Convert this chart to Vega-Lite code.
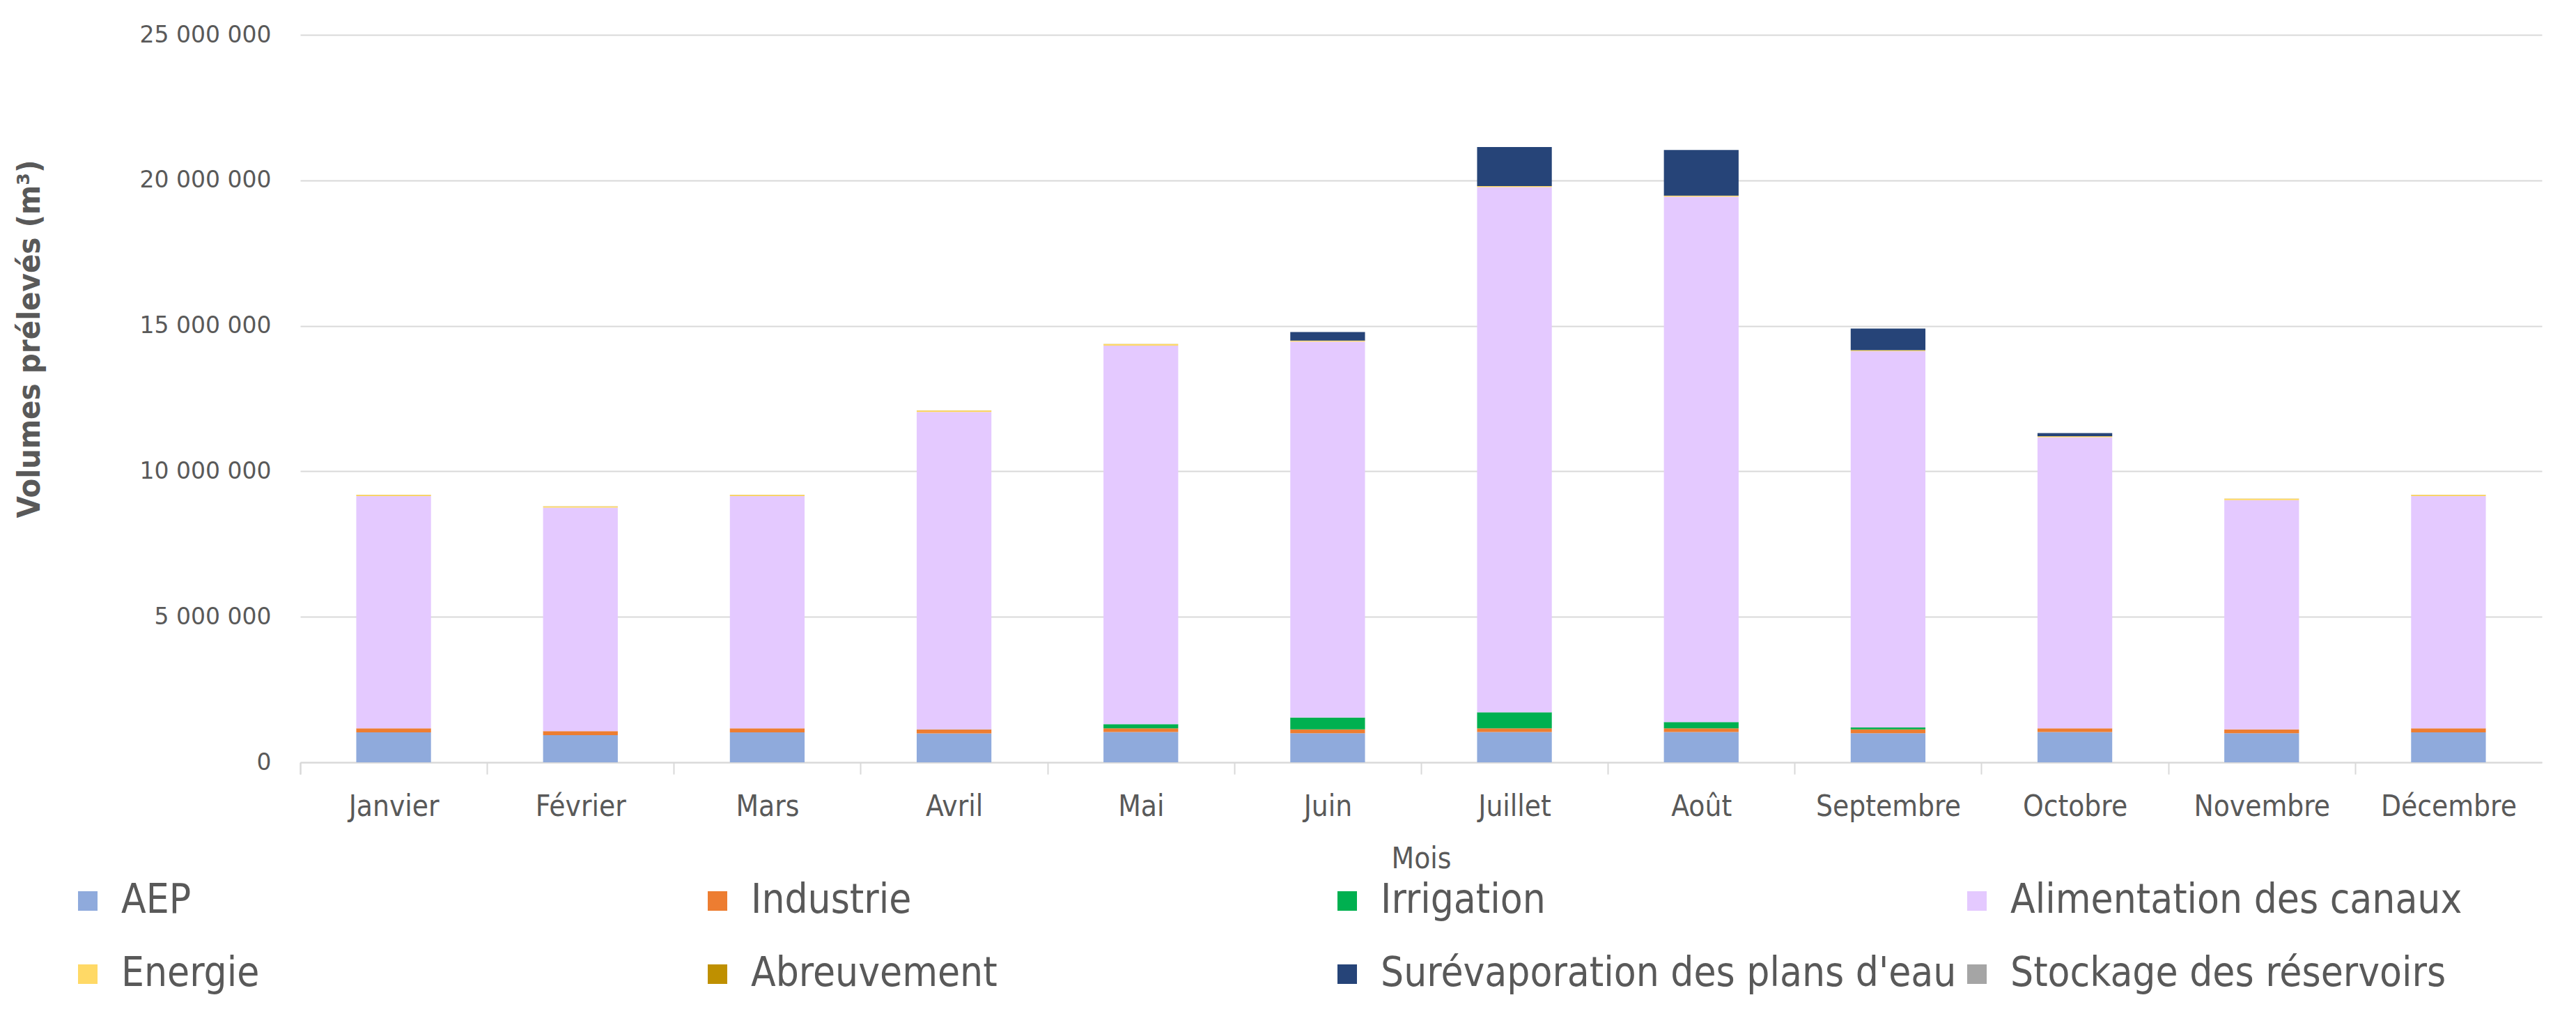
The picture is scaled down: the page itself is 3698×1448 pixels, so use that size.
{
  "$schema": "https://vega.github.io/schema/vega-lite/v6.json",
  "width": 3218,
  "height": 1044,
  "autosize": {"type": "none"},
  "padding": {"left": 431, "top": 50, "right": 49, "bottom": 354},
  "background": "white",
  "config": {
    "view": {"stroke": null},
    "locale": {"number": {"decimal": ",", "thousands": " ", "grouping": [3], "currency": ["", " €"]}},
    "font": "DejaVu Sans Condensed, Liberation Sans, sans-serif"
  },
  "datasets": {
    "usages": [
      {"usage": "AEP", "rang": 1},
      {"usage": "Industrie", "rang": 2},
      {"usage": "Irrigation", "rang": 3},
      {"usage": "Alimentation des canaux", "rang": 4},
      {"usage": "Energie", "rang": 5},
      {"usage": "Abreuvement", "rang": 6},
      {"usage": "Surévaporation des plans d'eau", "rang": 7},
      {"usage": "Stockage des réservoirs", "rang": 8}
    ]
  },
  "data": {
    "values": [
      {"mois": "Janvier", "usage": "AEP", "volume": 1030000},
      {"mois": "Janvier", "usage": "Industrie", "volume": 140000},
      {"mois": "Janvier", "usage": "Irrigation", "volume": 0},
      {"mois": "Janvier", "usage": "Alimentation des canaux", "volume": 7980000},
      {"mois": "Janvier", "usage": "Energie", "volume": 40000},
      {"mois": "Janvier", "usage": "Abreuvement", "volume": 5000},
      {"mois": "Janvier", "usage": "Surévaporation des plans d'eau", "volume": 0},
      {"mois": "Janvier", "usage": "Stockage des réservoirs", "volume": 0},
      {"mois": "Février", "usage": "AEP", "volume": 934000},
      {"mois": "Février", "usage": "Industrie", "volume": 136000},
      {"mois": "Février", "usage": "Irrigation", "volume": 0},
      {"mois": "Février", "usage": "Alimentation des canaux", "volume": 7680000},
      {"mois": "Février", "usage": "Energie", "volume": 40000},
      {"mois": "Février", "usage": "Abreuvement", "volume": 5000},
      {"mois": "Février", "usage": "Surévaporation des plans d'eau", "volume": 0},
      {"mois": "Février", "usage": "Stockage des réservoirs", "volume": 0},
      {"mois": "Mars", "usage": "AEP", "volume": 1030000},
      {"mois": "Mars", "usage": "Industrie", "volume": 140000},
      {"mois": "Mars", "usage": "Irrigation", "volume": 0},
      {"mois": "Mars", "usage": "Alimentation des canaux", "volume": 7980000},
      {"mois": "Mars", "usage": "Energie", "volume": 40000},
      {"mois": "Mars", "usage": "Abreuvement", "volume": 5000},
      {"mois": "Mars", "usage": "Surévaporation des plans d'eau", "volume": 0},
      {"mois": "Mars", "usage": "Stockage des réservoirs", "volume": 0},
      {"mois": "Avril", "usage": "AEP", "volume": 996000},
      {"mois": "Avril", "usage": "Industrie", "volume": 128000},
      {"mois": "Avril", "usage": "Irrigation", "volume": 5000},
      {"mois": "Avril", "usage": "Alimentation des canaux", "volume": 10910000},
      {"mois": "Avril", "usage": "Energie", "volume": 50000},
      {"mois": "Avril", "usage": "Abreuvement", "volume": 5000},
      {"mois": "Avril", "usage": "Surévaporation des plans d'eau", "volume": 0},
      {"mois": "Avril", "usage": "Stockage des réservoirs", "volume": 0},
      {"mois": "Mai", "usage": "AEP", "volume": 1040000},
      {"mois": "Mai", "usage": "Industrie", "volume": 130000},
      {"mois": "Mai", "usage": "Irrigation", "volume": 140000},
      {"mois": "Mai", "usage": "Alimentation des canaux", "volume": 13010000},
      {"mois": "Mai", "usage": "Energie", "volume": 50000},
      {"mois": "Mai", "usage": "Abreuvement", "volume": 5000},
      {"mois": "Mai", "usage": "Surévaporation des plans d'eau", "volume": 0},
      {"mois": "Mai", "usage": "Stockage des réservoirs", "volume": 0},
      {"mois": "Juin", "usage": "AEP", "volume": 1000000},
      {"mois": "Juin", "usage": "Industrie", "volume": 130000},
      {"mois": "Juin", "usage": "Irrigation", "volume": 410000},
      {"mois": "Juin", "usage": "Alimentation des canaux", "volume": 12920000},
      {"mois": "Juin", "usage": "Energie", "volume": 30000},
      {"mois": "Juin", "usage": "Abreuvement", "volume": 5000},
      {"mois": "Juin", "usage": "Surévaporation des plans d'eau", "volume": 290000},
      {"mois": "Juin", "usage": "Stockage des réservoirs", "volume": 0},
      {"mois": "Juillet", "usage": "AEP", "volume": 1040000},
      {"mois": "Juillet", "usage": "Industrie", "volume": 130000},
      {"mois": "Juillet", "usage": "Irrigation", "volume": 550000},
      {"mois": "Juillet", "usage": "Alimentation des canaux", "volume": 18050000},
      {"mois": "Juillet", "usage": "Energie", "volume": 30000},
      {"mois": "Juillet", "usage": "Abreuvement", "volume": 5000},
      {"mois": "Juillet", "usage": "Surévaporation des plans d'eau", "volume": 1340000},
      {"mois": "Juillet", "usage": "Stockage des réservoirs", "volume": 0},
      {"mois": "Août", "usage": "AEP", "volume": 1040000},
      {"mois": "Août", "usage": "Industrie", "volume": 130000},
      {"mois": "Août", "usage": "Irrigation", "volume": 210000},
      {"mois": "Août", "usage": "Alimentation des canaux", "volume": 18060000},
      {"mois": "Août", "usage": "Energie", "volume": 30000},
      {"mois": "Août", "usage": "Abreuvement", "volume": 5000},
      {"mois": "Août", "usage": "Surévaporation des plans d'eau", "volume": 1570000},
      {"mois": "Août", "usage": "Stockage des réservoirs", "volume": 0},
      {"mois": "Septembre", "usage": "AEP", "volume": 1000000},
      {"mois": "Septembre", "usage": "Industrie", "volume": 130000},
      {"mois": "Septembre", "usage": "Irrigation", "volume": 70000},
      {"mois": "Septembre", "usage": "Alimentation des canaux", "volume": 12930000},
      {"mois": "Septembre", "usage": "Energie", "volume": 30000},
      {"mois": "Septembre", "usage": "Abreuvement", "volume": 5000},
      {"mois": "Septembre", "usage": "Surévaporation des plans d'eau", "volume": 740000},
      {"mois": "Septembre", "usage": "Stockage des réservoirs", "volume": 0},
      {"mois": "Octobre", "usage": "AEP", "volume": 1040000},
      {"mois": "Octobre", "usage": "Industrie", "volume": 130000},
      {"mois": "Octobre", "usage": "Irrigation", "volume": 0},
      {"mois": "Octobre", "usage": "Alimentation des canaux", "volume": 10000000},
      {"mois": "Octobre", "usage": "Energie", "volume": 30000},
      {"mois": "Octobre", "usage": "Abreuvement", "volume": 5000},
      {"mois": "Octobre", "usage": "Surévaporation des plans d'eau", "volume": 110000},
      {"mois": "Octobre", "usage": "Stockage des réservoirs", "volume": 0},
      {"mois": "Novembre", "usage": "AEP", "volume": 1000000},
      {"mois": "Novembre", "usage": "Industrie", "volume": 130000},
      {"mois": "Novembre", "usage": "Irrigation", "volume": 0},
      {"mois": "Novembre", "usage": "Alimentation des canaux", "volume": 7880000},
      {"mois": "Novembre", "usage": "Energie", "volume": 40000},
      {"mois": "Novembre", "usage": "Abreuvement", "volume": 5000},
      {"mois": "Novembre", "usage": "Surévaporation des plans d'eau", "volume": 0},
      {"mois": "Novembre", "usage": "Stockage des réservoirs", "volume": 0},
      {"mois": "Décembre", "usage": "AEP", "volume": 1030000},
      {"mois": "Décembre", "usage": "Industrie", "volume": 140000},
      {"mois": "Décembre", "usage": "Irrigation", "volume": 0},
      {"mois": "Décembre", "usage": "Alimentation des canaux", "volume": 7980000},
      {"mois": "Décembre", "usage": "Energie", "volume": 40000},
      {"mois": "Décembre", "usage": "Abreuvement", "volume": 5000},
      {"mois": "Décembre", "usage": "Surévaporation des plans d'eau", "volume": 0},
      {"mois": "Décembre", "usage": "Stockage des réservoirs", "volume": 0}
    ]
  },
  "transform": [
    {"lookup": "usage", "from": {"data": {"name": "usages"}, "key": "usage", "fields": ["rang"]}}
  ],
  "mark": {"type": "bar"},
  "encoding": {
    "x": {
      "field": "mois",
      "type": "nominal",
      "sort": ["Janvier", "Février", "Mars", "Avril", "Mai", "Juin", "Juillet", "Août", "Septembre", "Octobre", "Novembre", "Décembre"],
      "scale": {"paddingInner": 0.6, "paddingOuter": 0.3},
      "axis": {
        "title": "Mois",
        "titleFont": "DejaVu Sans Condensed, Liberation Sans, sans-serif",
        "titleFontSize": 42,
        "titleFontWeight": "normal",
        "titleColor": "#595959",
        "titlePadding": 34,
        "labelAngle": 0,
        "labelFont": "DejaVu Sans Condensed, Liberation Sans, sans-serif",
        "labelFontSize": 42,
        "labelColor": "#595959",
        "labelPadding": 26,
        "labelLimit": 400,
        "labelOffset": 80.5,
        "domainColor": "#d9d9d9",
        "domainWidth": 2,
        "tickColor": "#d9d9d9",
        "tickWidth": 2,
        "tickSize": 17,
        "bandPosition": 0,
        "tickOffset": -80.5,
        "tickExtra": true
      }
    },
    "y": {
      "field": "volume",
      "type": "quantitative",
      "stack": "zero",
      "scale": {"domain": [0, 25000000], "nice": false},
      "axis": {
        "title": "Volumes prélevés (m³)",
        "titleFont": "DejaVu Sans Condensed, Liberation Sans, sans-serif",
        "titleFontSize": 45,
        "titleFontWeight": "bold",
        "titleColor": "#595959",
        "titleX": -389,
        "titleY": 436,
        "titleAngle": -90,
        "titleBaseline": "middle",
        "titleAlign": "center",
        "titleLimit": 1000,
        "values": [0, 5000000, 10000000, 15000000, 20000000, 25000000],
        "format": ",d",
        "labelFont": "DejaVu Sans",
        "labelFontSize": 33,
        "labelColor": "#595959",
        "labelPadding": 42,
        "labelLimit": 400,
        "ticks": false,
        "domain": false,
        "gridColor": "#d9d9d9",
        "gridWidth": 2
      }
    },
    "color": {
      "field": "usage",
      "type": "nominal",
      "scale": {
        "domain": ["AEP", "Industrie", "Irrigation", "Alimentation des canaux", "Energie", "Abreuvement", "Surévaporation des plans d'eau", "Stockage des réservoirs"],
        "range": ["#8FAADC", "#ED7D31", "#00B050", "#E4C9FF", "#FFD966", "#BF9000", "#264478", "#A5A5A5"]
      },
      "legend": {
        "title": null,
        "orient": "none",
        "legendX": -334,
        "legendY": 1214,
        "direction": "horizontal",
        "columns": 4,
        "gridAlign": "all",
        "columnPadding": -2,
        "rowPadding": 47,
        "padding": 0,
        "symbolType": "square",
        "symbolSize": 784,
        "symbolStrokeWidth": 0,
        "labelFont": "DejaVu Sans Condensed, Liberation Sans, sans-serif",
        "labelFontSize": 58,
        "labelColor": "#595959",
        "labelOffset": 19,
        "labelLimit": 1000
      }
    },
    "order": {"field": "rang", "type": "quantitative", "sort": "ascending"}
  }
}
